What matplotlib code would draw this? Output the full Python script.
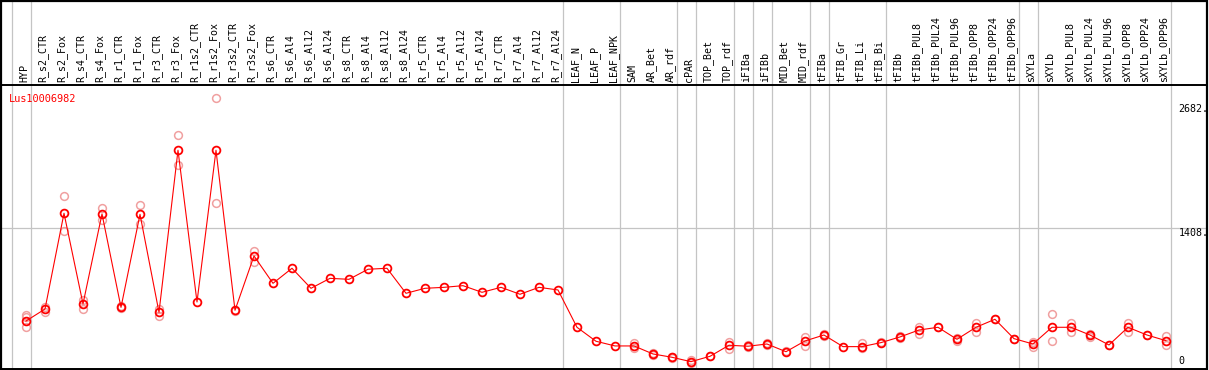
import matplotlib
matplotlib.use("Agg")
import matplotlib.pyplot as plt
from matplotlib.transforms import blended_transform_factory
from matplotlib.patches import Rectangle

# sample names along the top
samples = ["HYP", "R_s2_CTR", "R_s2_Fox", "R_s4_CTR", "R_s4_Fox", "R_r1_CTR", "R_r1_Fox",
           "R_r3_CTR", "R_r3_Fox", "R_r1s2_CTR", "R_r1s2_Fox", "R_r3s2_CTR", "R_r3s2_Fox",
           "R_s6_CTR", "R_s6_Al4", "R_s6_Al12", "R_s6_Al24", "R_s8_CTR", "R_s8_Al4",
           "R_s8_Al12", "R_s8_Al24", "R_r5_CTR", "R_r5_Al4", "R_r5_Al12", "R_r5_Al24",
           "R_r7_CTR", "R_r7_Al4", "R_r7_Al12", "R_r7_Al24", "LEAF_N", "LEAF_P", "LEAF_NPK",
           "SAM", "AR_Bet", "AR_rdf", "cPAR", "TOP_Bet", "TOP_rdf", "iFIBa", "iFIBb",
           "MID_Bet", "MID_rdf", "tFIBa", "tFIB_Gr", "tFIB_Li", "tFIB_Bi", "tFIBb",
           "tFIBb_PUL8", "tFIBb_PUL24", "tFIBb_PUL96", "tFIBb_OPP8", "tFIBb_OPP24",
           "tFIBb_OPP96", "sXYLa", "sXYLb", "sXYLb_PUL8", "sXYLb_PUL24", "sXYLb_PUL96",
           "sXYLb_OPP8", "sXYLb_OPP24", "sXYLb_OPP96"]

# mean expression per sample
means = [460, 583, 1563, 635, 1556, 600, 1552, 549, 2208, 655, 2208, 570, 1126,
         846, 1000, 795, 897, 887, 990, 1000, 744, 795, 805, 822, 754, 805, 734, 805, 778,
         396, 253, 205, 205, 123, 89, 44, 99, 212, 202, 225, 146, 256, 317, 198, 198, 239,
         297, 368, 396, 273, 396, 478, 280, 225, 396, 396, 317, 215, 396, 317, 259]

# individual replicates
replicates = [[522, 500, 402], [556, 600], [1737, 1382], [675, 586], [1614, 1494],
              [590, 610], [1648, 1453], [580, 512], [2364, 2057], [], [2740, 1672],
              [560], [1177, 1068],
              [], [], [], [], [], [], [], [], [], [], [], [], [], [], [], [],
              [], [], [],
              [232, 181], [135, 110], [95, 84], [61, 28], [99], [246, 177], [215, 190],
              [232, 218], [150], [300, 208], [330, 305], [], [232, 181], [245], [305, 290],
              [396, 328], [400], [290, 256], [437, 351], [478], [280], [249, 198],
              [532, 259], [443, 351], [330, 300], [215], [437, 344], [317], [307, 215]]

# group separators (after these sample indices)
group_ends = [-1, 0, 28, 31, 34, 35, 37, 38, 39, 41, 42, 45, 52, 53, 60]

gene = "Lus10006982"
ytick_vals = [2682, 1408]

W, H = 1209, 370
fig = plt.figure(figsize=(W / 100, H / 100), dpi=100)
ax = fig.add_axes([1 / W, 1 / H, 1206 / W, 284 / H])

x = list(range(len(samples)))
ax.set_xlim(-1.316, 62.16)
ax.set_ylim(-31, 2876)

grid_col = "#c4c4c4"
for g in group_ends:
    ax.axvline(g + 0.25, ymin=0, ymax=1.32, color=grid_col, lw=0.9, clip_on=False, zorder=1)
ax.axhline(1408, color=grid_col, lw=0.9, zorder=1)

rx, ry = [], []
for i, r in enumerate(replicates):
    for v in r:
        rx.append(i)
        ry.append(v)
ax.plot(rx, ry, ls="none", marker="o", ms=5.6, mfc="none", mec="#f0a0a0", mew=1.1, zorder=2)
ax.plot(x, means, color="#ff0000", lw=0.8, marker="o", ms=5.6, mfc="none",
        mec="#ff0000", mew=1.3, zorder=3)

mono = "DejaVu Sans Mono"
trans = blended_transform_factory(ax.transData, ax.transAxes)
for i, s in enumerate(samples):
    ax.text(i - 0.1, 1.011, s, rotation=90, ha="center", va="bottom", transform=trans,
            fontsize=7.2, family=mono, color="black", clip_on=False)

ax.text(0.0066, 0.968, gene, transform=ax.transAxes, ha="left", va="top",
        fontsize=7.4, family=mono, color="#ff0000")

ytrans = blended_transform_factory(ax.transAxes, ax.transData)
for v in ytick_vals:
    ax.text(0.9765, v, f"{v}.", transform=ytrans, ha="left", va="top",
            fontsize=7.2, family=mono, color="black")
ax.text(0.9765, 0, "0", transform=ytrans, ha="left", va="bottom",
        fontsize=7.2, family=mono, color="black")

ax.set_xticks([])
ax.set_yticks([])
for sp in ax.spines.values():
    sp.set_color("black")
    sp.set_linewidth(1.4)

fig.patches.append(Rectangle((1 / W, 0.5 / H), 1206 / W, (H - 1) / H, fill=False,
                             edgecolor="black", lw=1.6, transform=fig.transFigure))

fig.savefig("out.png", dpi=100)
